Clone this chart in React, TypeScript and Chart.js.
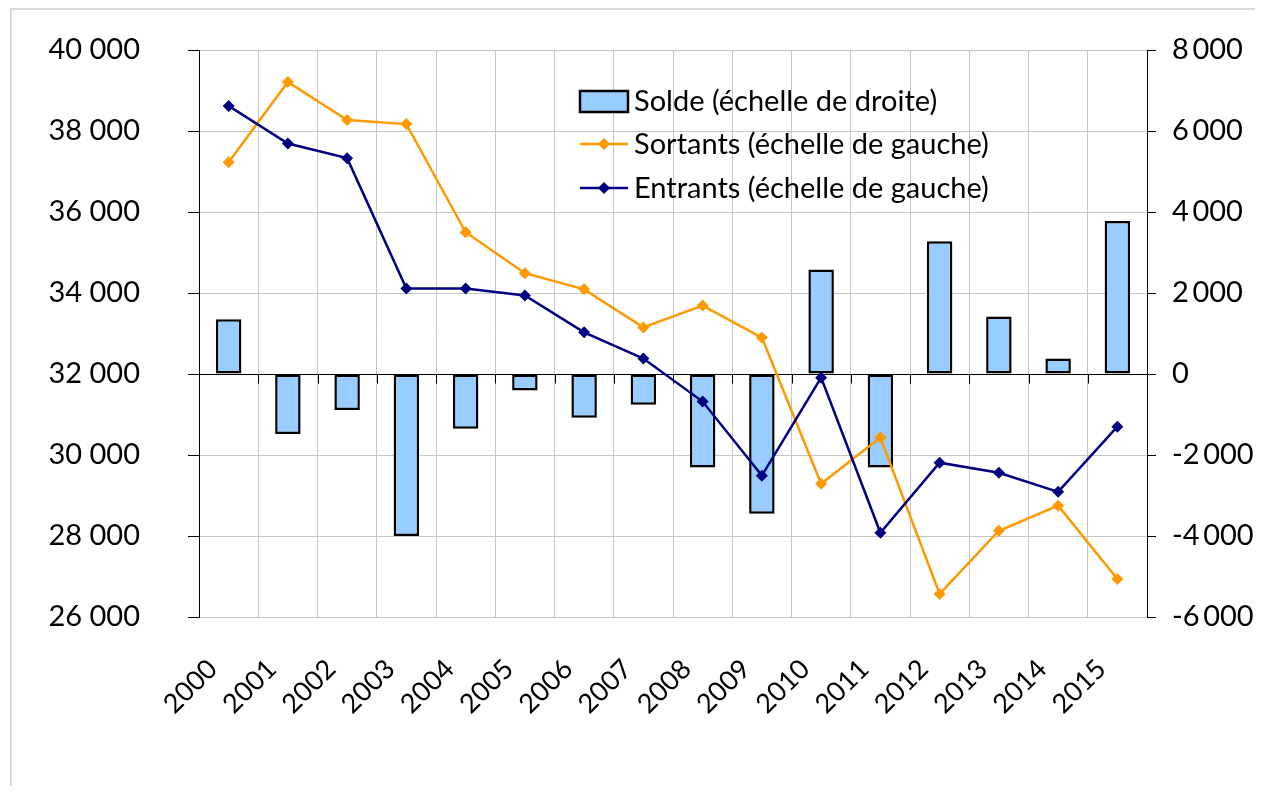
import React, { useEffect, useRef } from "react";
import { Chart, registerables } from "chart.js";

Chart.register(...registerables);

const years = ["2000","2001","2002","2003","2004","2005","2006","2007","2008","2009","2010","2011","2012","2013","2014","2015"];
const solde = [1350, -1480, -890, -4000, -1350, -410, -1080, -760, -2310, -3450, 2580, -2310, 3280, 1420, 380, 3780];
const sortants = [37230, 39210, 38270, 38170, 35500, 34490, 34090, 33150, 33690, 32900, 29290, 30430, 26570, 28130, 28750, 26940];
const entrants = [38620, 37690, 37330, 34110, 34110, 33940, 33030, 32380, 31320, 29490, 31910, 28080, 29810, 29560, 29090, 30700];

const leftTicks = [26000, 28000, 30000, 32000, 34000, 36000, 38000, 40000];
const rightTicks = [-6000, -4000, -2000, 0, 2000, 4000, 6000, 8000];

const legendLabels = ["Solde (échelle de droite)", "Sortants (échelle de gauche)", "Entrants (échelle de gauche)"];

const ORANGE = "#FF9900";
const NAVY = "#000080";
const BAR = "#99CCFF";
const GRID = "#c6c6c6";
const FONT = "Lato";

const fmtLeft = (v: number) => {
  const s = Math.abs(v).toString();
  const t = s.length > 3 ? s.slice(0, s.length - 3) + " " + s.slice(-3) : s;
  return (v < 0 ? "-" : "") + t;
};
const fmtRight = (v: number) => {
  const s = Math.abs(v).toString();
  const t = s.length > 3 ? s.slice(0, s.length - 3) + "\u2009" + s.slice(-3) : s;
  return (v < 0 ? "-" : "") + t;
};

const clearPad = (scale: any) => {
  scale.paddingTop = 0;
  scale.paddingBottom = 0;
  scale.paddingLeft = 0;
  scale.paddingRight = 0;
};

const zeroLinePlugin = {
  id: "zeroLine",
  beforeDatasetsDraw(chart: any) {
    const { ctx, chartArea, scales } = chart;
    const y0 = Math.round(scales.y2.getPixelForValue(0)) + 0.5;
    const xs = scales.x;
    ctx.save();
    ctx.strokeStyle = "#000";
    ctx.lineWidth = 1;
    ctx.beginPath();
    ctx.moveTo(chartArea.left, y0);
    ctx.lineTo(chartArea.right, y0);
    const n = years.length;
    for (let i = 0; i <= n; i++) {
      const x = Math.round(xs.getPixelForValue(i - 0.5)) + 0.5;
      ctx.moveTo(x, y0);
      ctx.lineTo(x, y0 + 9);
    }
    ctx.stroke();
    ctx.restore();
  },
};

const legendPlugin = {
  id: "customLegend",
  afterDraw(chart: any) {
    const { ctx, chartArea } = chart;
    const x0 = chartArea.left + 381;
    const rows = [chartArea.top + 51, chartArea.top + 94, chartArea.top + 138];
    ctx.save();
    ctx.font = `29px ${FONT}`;
    ctx.textBaseline = "middle";
    ctx.fillStyle = BAR;
    ctx.fillRect(x0, rows[0] - 10, 48, 21);
    ctx.strokeStyle = "#000";
    ctx.lineWidth = 2.5;
    ctx.strokeRect(x0, rows[0] - 10, 48, 21);
    const lineSym = (y: number, color: string) => {
      ctx.strokeStyle = color;
      ctx.lineWidth = 2.5;
      ctx.beginPath();
      ctx.moveTo(x0, y);
      ctx.lineTo(x0 + 48, y);
      ctx.stroke();
      ctx.fillStyle = color;
      ctx.beginPath();
      const cx = x0 + 24;
      const r = 6;
      ctx.moveTo(cx, y - r);
      ctx.lineTo(cx + r, y);
      ctx.lineTo(cx, y + r);
      ctx.lineTo(cx - r, y);
      ctx.closePath();
      ctx.fill();
    };
    lineSym(rows[1], ORANGE);
    lineSym(rows[2], NAVY);
    ctx.fillStyle = "#000";
    legendLabels.forEach((t, i) => ctx.fillText(t, x0 + 54, rows[i] + 1));
    ctx.restore();
  },
};

export default function App() {
  const ref = useRef<HTMLCanvasElement | null>(null);
  useEffect(() => {
    if (!ref.current) return;
    const lineDs = (label: string, data: number[], color: string, order: number) => ({
      type: "line",
      label,
      data,
      yAxisID: "y",
      borderColor: color,
      backgroundColor: color,
      borderWidth: 2.5,
      pointStyle: "rectRot",
      pointRadius: 6,
      pointBorderWidth: 0,
      pointBackgroundColor: color,
      tension: 0,
      order,
    });
    const chart = new Chart(ref.current, {
      type: "bar",
      data: {
        labels: years,
        datasets: [
          lineDs(legendLabels[2], entrants, NAVY, 0) as any,
          lineDs(legendLabels[1], sortants, ORANGE, 1) as any,
          {
            type: "bar",
            label: legendLabels[0],
            data: solde,
            yAxisID: "y2",
            backgroundColor: BAR,
            borderColor: "#000",
            borderWidth: 2.5,
            borderSkipped: false,
            categoryPercentage: 1,
            barPercentage: 0.43,
            order: 2,
          } as any,
        ],
      },
      options: {
        animation: false,
        responsive: true,
        maintainAspectRatio: false,
        layout: { padding: { top: 40, left: 0, right: 0, bottom: 0 } },
        plugins: {
          legend: { display: false },
          tooltip: { enabled: false },
        },
        scales: {
          x: {
            offset: true,
            grid: { color: GRID, offset: true, drawTicks: false, lineWidth: 1 },
            border: { display: false },
            ticks: {
              minRotation: 45,
              maxRotation: 45,
              padding: 36,
              labelOffset: -16,
              color: "#000",
              font: { family: FONT, size: 27 },
              autoSkip: false,
            },
            afterFit(scale: any) {
              scale.height = 169;
              clearPad(scale);
            },
          },
          y: {
            position: "left",
            min: 26000,
            max: 40000,
            afterBuildTicks(scale: any) {
              scale.ticks = leftTicks.map((v) => ({ value: v }));
            },
            grid: { color: GRID, tickColor: "#000", tickLength: 11, lineWidth: 1 },
            border: { color: "#000", width: 1 },
            ticks: {
              padding: 48,
              color: "#000",
              font: { family: FONT, size: 29 },
              callback: (v: any) => fmtLeft(Number(v)),
            },
            afterFit(scale: any) {
              scale.width = 187;
              clearPad(scale);
            },
          },
          y2: {
            position: "right",
            min: -6000,
            max: 8000,
            afterBuildTicks(scale: any) {
              scale.ticks = rightTicks.map((v) => ({ value: v }));
            },
            grid: { drawOnChartArea: false, tickColor: "#000", tickLength: 9 },
            border: { color: "#000", width: 1 },
            ticks: {
              padding: 16,
              color: "#000",
              font: { family: FONT, size: 29 },
              callback: (v: any) => fmtRight(Number(v)),
            },
            afterFit(scale: any) {
              scale.width = 110;
              clearPad(scale);
            },
          },
        },
      } as any,
      plugins: [zeroLinePlugin, legendPlugin],
    });
    return () => chart.destroy();
  }, []);

  return (
    <div
      style={{
        marginLeft: 2,
        borderLeft: "2px solid #d9d9d9",
        borderTop: "2px solid #d9d9d9",
        width: 1245,
        height: 776,
      }}
    >
      <div style={{ position: "relative", width: 1245, height: 776 }}>
        <canvas ref={ref} />
      </div>
    </div>
  );
}
